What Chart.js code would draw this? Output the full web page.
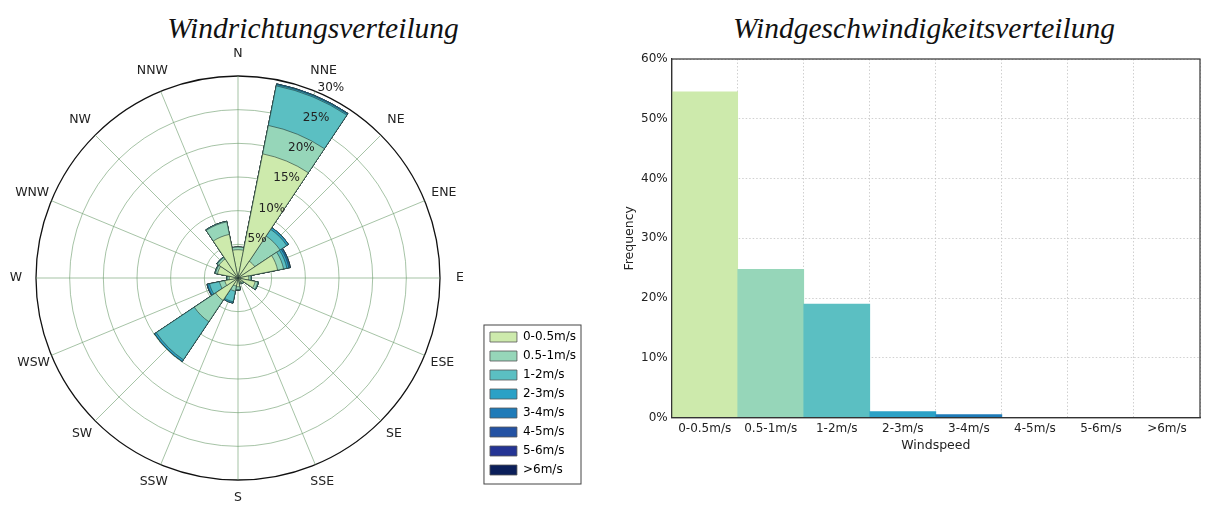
<!DOCTYPE html>
<html>
<head>
<meta charset="utf-8">
<script src="https://cdn.jsdelivr.net/npm/chart.js@4.4.1/dist/chart.umd.min.js"></script>
<style>
  body { margin: 0; width: 1207px; height: 505px; background: #fff; position: relative; overflow: hidden; }
  .title { position: absolute; top: 12px; width: 440px; text-align: center; font-family: "Liberation Serif", serif; font-style: italic; font-size: 29.5px; line-height: 32px; color: #111; }
  #roseTitle { left: 93px; }
  #speedTitle { left: 704px; }
  #rose { position: absolute; left: -6px; top: 42px; }
  #speed { position: absolute; left: 600px; top: 40px; }
</style>
</head>
<body>
<div class="title" id="roseTitle">Windrichtungsverteilung</div>
<div class="title" id="speedTitle">Windgeschwindigkeitsverteilung</div>
<canvas id="rose" width="607" height="465"></canvas>
<canvas id="speed" width="607" height="465"></canvas>
<script>
// Directions, clockwise from north
const directions = ["N", "NNE", "NE", "ENE", "E", "ESE", "SE", "SSE", "S", "SSW", "SW", "WSW", "W", "WNW", "NW", "NNW"];
const speedBins = ["0-0.5m/s", "0.5-1m/s", "1-2m/s", "2-3m/s", "3-4m/s", "4-5m/s", "5-6m/s", ">6m/s"];

// Frequency (%) per direction for every speed bin
const freq0to05 = [4.2, 18.8, 3.0, 6.0, 1.6, 2.6, 0.8, 0.6, 1.3, 1.2, 4.0, 2.0, 1.3, 3.1, 3.4, 6.6];
const freq05to1 = [0.4, 4.3, 4.5, 0.9, 0.3, 0.4, 0.2, 0.2, 0.4, 0.8, 3.8, 0.8, 0.3, 0.3, 0.3, 1.9];
const freq1to2 = [0.0, 6.0, 1.2, 0.5, 0.1, 0.1, 0.0, 0.0, 0.1, 1.6, 6.8, 1.5, 0.1, 0.1, 0.1, 0.1];
const freq2to3 = [0.0, 0.2, 0.3, 0.3, 0.0, 0.0, 0.0, 0.0, 0.0, 0.2, 0.3, 0.3, 0.0, 0.0, 0.0, 0.0];
const freq3to4 = [0.0, 0.1, 0.0, 0.2, 0.0, 0.0, 0.0, 0.0, 0.0, 0.0, 0.0, 0.1, 0.0, 0.0, 0.0, 0.0];
const freq4to5 = [0.0, 0.0, 0.0, 0.05, 0.0, 0.0, 0.0, 0.0, 0.0, 0.0, 0.0, 0.0, 0.0, 0.0, 0.0, 0.0];
const freq5to6 = [0.0, 0.0, 0.0, 0.0, 0.0, 0.0, 0.0, 0.0, 0.0, 0.0, 0.0, 0.0, 0.0, 0.0, 0.0, 0.0];
const freqOver6 = [0.0, 0.0, 0.0, 0.0, 0.0, 0.0, 0.0, 0.0, 0.0, 0.0, 0.0, 0.0, 0.0, 0.0, 0.0, 0.0];

// Rose rings and their labels
const ringTicks = [5, 10, 15, 20, 25, 30];

// Overall frequency (%) per speed bin (right chart)
const speedTotals = [54.5, 24.8, 19.0, 1.0, 0.5, 0.0, 0.0, 0.0];
const yTicks = [0, 10, 20, 30, 40, 50, 60];

const binColors = ["#cdeaac", "#96d6b9", "#5bbfc2", "#2ba1c6", "#1f7bb8", "#2452a3", "#243494", "#0b1f5a"];
const gridGreen = "rgba(105,155,105,0.75)";
const fontFamily = "'DejaVu Sans', sans-serif";
const dirFontSize = 12.5;

// Stack the bins: each dataset reaches the top of its bin
const binSeries = [freq0to05, freq05to1, freq1to2, freq2to3, freq3to4, freq4to5, freq5to6, freqOver6];
const cumulative = [];
binSeries.forEach((series, b) => {
  cumulative.push(series.map((v, i) => (b > 0 ? cumulative[b - 1][i] : 0) + v));
});

// 32 slots: a wedge at even slots, an empty slot carrying the spoke and label
const roseLabels = [];
directions.forEach((d) => {
  roseLabels.push("");
  roseLabels.push(d);
});

const roseDatasets = cumulative.map((values, b) => {
  const slots = [];
  values.forEach((v) => {
    slots.push(v);
    slots.push(0);
  });
  return {
    label: speedBins[b],
    data: slots,
    backgroundColor: binColors[b],
    borderColor: "rgba(35,55,50,0.85)",
    borderWidth: (c) => (c.dataIndex % 2 ? 0 : 0.7),
    angle: (c) => (c.dataIndex % 2 ? 0.000001 : 22.499999),
  };
});

// Direction labels centred round the rim, ring labels, and a frame round the legend
const roseExtras = {
  id: "roseExtras",
  afterLayout(chart) {
    chart.legend.top += 2.5;
    chart.legend.bottom += 2.5;
  },
  afterDraw(chart) {
    const ctx = chart.ctx;
    const r = chart.scales.r;
    ctx.save();
    ctx.fillStyle = "#222";
    ctx.textAlign = "center";
    ctx.textBaseline = "middle";

    ctx.font = dirFontSize + "px " + fontFamily;
    chart.data.labels.forEach((label, i) => {
      if (!label) return;
      const theta = (((i - 1) / 2) * 22.5 * Math.PI) / 180;
      const p = r.getPointPosition(i, r.drawingArea + 20 + 2 * Math.cos(theta));
      ctx.fillText(label, p.x, p.y);
    });

    ctx.font = "12px " + fontFamily;
    const a = ((26 - 90) * Math.PI) / 180;
    ringTicks.forEach((v) => {
      const d = r.getDistanceFromCenterForValue(v) + 10;
      ctx.fillText(v + "%", r.xCenter + d * Math.cos(a), r.yCenter + d * Math.sin(a));
    });

    const boxes = chart.legend.legendHitBoxes;
    const left = Math.min(...boxes.map((b) => b.left));
    const top = Math.min(...boxes.map((b) => b.top));
    const right = Math.max(...boxes.map((b) => b.left + b.width));
    const bottom = Math.max(...boxes.map((b) => b.top + b.height));
    ctx.strokeStyle = "#444";
    ctx.lineWidth = 1;
    ctx.strokeRect(left - 6, top - 6, right - left + 11, bottom - top + 14);
    ctx.restore();
  },
};

new Chart(document.getElementById("rose"), {
  type: "polarArea",
  data: { labels: roseLabels, datasets: roseDatasets },
  options: {
    responsive: false,
    animation: false,
    events: [],
    layout: { padding: { top: 34.5, bottom: 26.5, right: 15 } },
    scales: {
      r: {
        min: 0,
        max: 30,
        startAngle: -11.249999,
        z: 1,
        ticks: { display: false, stepSize: 5 },
        grid: {
          circular: true,
          color: (c) => (c.tick && c.tick.value === 30 ? "#111" : gridGreen),
          lineWidth: (c) => (c.tick && c.tick.value === 30 ? 1.3 : 0.8),
        },
        angleLines: {
          display: true,
          color: (c) => (c.index % 2 ? gridGreen : "rgba(0,0,0,0)"),
          lineWidth: 0.8,
        },
        pointLabels: { display: false },
      },
    },
    plugins: {
      tooltip: { enabled: false },
      legend: {
        position: "right",
        align: "end",
        labels: {
          boxWidth: 27,
          boxHeight: 10,
          padding: 7,
          color: "#222",
          font: { family: fontFamily, size: 12 },
          generateLabels: () =>
            speedBins.map((text, i) => ({
              text: text,
              fillStyle: binColors[i],
              strokeStyle: "#555",
              lineWidth: 0.8,
              hidden: false,
              datasetIndex: i,
            })),
        },
      },
    },
  },
  plugins: [roseExtras],
});

// Frame all round the plot area
const plotFrame = {
  id: "plotFrame",
  afterDraw(chart) {
    const { ctx, chartArea } = chart;
    ctx.save();
    ctx.strokeStyle = "#333";
    ctx.lineWidth = 1.2;
    ctx.strokeRect(chartArea.left, chartArea.top, chartArea.right - chartArea.left, chartArea.bottom - chartArea.top);
    ctx.restore();
  },
};

new Chart(document.getElementById("speed"), {
  type: "bar",
  data: {
    labels: speedBins,
    datasets: [
      {
        data: speedTotals,
        backgroundColor: binColors,
        borderWidth: 0,
        barPercentage: 1,
        categoryPercentage: 1,
      },
    ],
  },
  options: {
    responsive: false,
    animation: false,
    events: [],
    layout: { padding: { left: 14, right: 7, top: 19, bottom: 48 } },
    plugins: { legend: { display: false }, tooltip: { enabled: false } },
    scales: {
      x: {
        grid: { offset: true, color: "#c4c4c4", lineWidth: 0.8, drawTicks: false },
        border: { display: true, color: "#333", width: 1.2, dash: [1.5, 2] },
        ticks: { padding: 4, color: "#222", font: { family: fontFamily, size: 12 } },
        title: { display: true, text: "Windspeed", color: "#222", font: { family: fontFamily, size: 12.5 }, padding: { top: -2, bottom: 4 } },
      },
      y: {
        min: 0,
        max: 60,
        afterBuildTicks: (axis) => {
          axis.ticks = yTicks.map((v) => ({ value: v }));
        },
        grid: { color: "#c4c4c4", lineWidth: 0.8, drawTicks: false },
        border: { display: true, color: "#333", width: 1.2, dash: [1.5, 2] },
        ticks: { padding: 4, color: "#222", font: { family: fontFamily, size: 12 }, callback: (v) => v + "%" },
        title: { display: true, text: "Frequency", color: "#222", font: { family: fontFamily, size: 12.5 }, padding: { top: 8, bottom: 0 } },
      },
    },
  },
  plugins: [plotFrame],
});
</script>
</body>
</html>
